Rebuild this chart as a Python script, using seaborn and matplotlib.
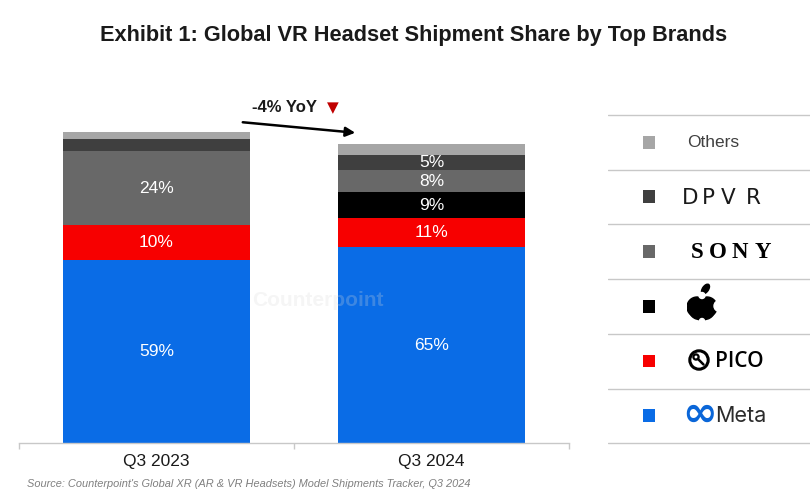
import numpy as np
import pandas as pd
import seaborn as sns
import matplotlib.pyplot as plt
from matplotlib.patches import Circle, Ellipse

quarters = ["Q3 2023", "Q3 2024"]
brands = ["Meta", "PICO", "Apple", "Sony", "DPVR", "Others"]

# segment heights (Q3 2023 total = 100, Q3 2024 is -4% YoY)
meta = [58.8, 63.0]
pico = [11.3, 9.3]
apple = [0.0, 8.4]
sony = [23.8, 7.1]
dpvr = [3.9, 4.8]
others = [2.3, 3.5]

# shares printed inside the bars
meta_lbl = ["59%", "65%"]
pico_lbl = ["10%", "11%"]
apple_lbl = ["", "9%"]
sony_lbl = ["24%", "8%"]
dpvr_lbl = ["", "5%"]
others_lbl = ["", ""]

colors = ["#0a6ce6", "#f70000", "#000000", "#686868", "#3f3f3f", "#a6a6a6"]

title = "Exhibit 1: Global VR Headset Shipment Share by Top Brands"
yoy = "-4% YoY"
source = "Source: Counterpoint's Global XR (AR & VR Headsets) Model Shipments Tracker, Q3 2024"

W, H = 811, 500


def fpx(x, y):
    # figure fraction from pixel position measured top-left
    return x / W, 1 - y / H


def px_axes(fig, x0, y0, w, h):
    return fig.add_axes([x0 / W, 1 - (y0 + h) / H, w / W, h / H])


df = pd.DataFrame({
    "quarter": quarters * len(brands),
    "brand": np.repeat(brands, len(quarters)),
    "value": meta + pico + apple + sony + dpvr + others,
    "label": meta_lbl + pico_lbl + apple_lbl + sony_lbl + dpvr_lbl + others_lbl,
})
df["top"] = df.groupby("quarter")["value"].cumsum()
df["mid"] = df["top"] - df["value"] / 2

sns.set_theme(style="white")
plt.rcParams["font.family"] = ["Liberation Sans", "DejaVu Sans"]

fig = plt.figure(figsize=(W / 100, H / 100), dpi=100)
ax = px_axes(fig, 19, 100, 550, 343)

# stacked bars: draw cumulative totals from the top segment down
for brand, color in reversed(list(zip(brands, colors))):
    sub = df[(df["brand"] == brand) & (df["value"] > 0)]
    sns.barplot(data=sub, x="quarter", y="top", order=quarters, color=color,
                width=0.68, saturation=1, linewidth=0, errorbar=None, ax=ax)

for row in df.itertuples():
    if row.label:
        ax.text(quarters.index(row.quarter), row.mid, row.label, ha="center",
                va="center", color="white", fontsize=12.5)

ax.set_xlim(-0.5, 1.5)
ax.set_ylim(0, 110.3)
ax.set_xlabel("")
ax.set_ylabel("")
ax.set_yticks([])
for s in ["left", "top", "right"]:
    ax.spines[s].set_visible(False)
ax.spines["bottom"].set_color("#c8c8c8")
ax.spines["bottom"].set_linewidth(1)
ax.set_xticks([-0.5, 0.5, 1.5], minor=True)
ax.tick_params(axis="x", which="minor", bottom=True, length=4, color="#c8c8c8")
ax.tick_params(axis="x", which="major", bottom=False, labelsize=12.5,
               labelcolor="#1a1a1a", pad=2)

# title, source, watermark
fig.text(*fpx(414, 35), title, ha="center", va="center", fontsize=15.7,
         fontweight="bold", color="#1a1a1a")
fig.text(*fpx(27, 484), source, ha="left", va="center", fontsize=7.9,
         style="italic", color="#808080")
fig.text(*fpx(318, 300), "Counterpoint", ha="center", va="center", fontsize=15,
         fontweight="bold", color="#d8d8d8", alpha=0.25, zorder=10)

# YoY note and arrow
fig.text(*fpx(284, 107), yoy, ha="center", va="center", fontsize=12,
         fontweight="bold", color="#1a1a1a")
fig.text(*fpx(333, 108), "\u25bc", ha="center", va="center", fontsize=11,
         color="#c00000", family="DejaVu Sans")
ax.annotate("", xy=(358, H - 133), xytext=(240, H - 122), xycoords="figure pixels",
            textcoords="figure pixels",
            arrowprops=dict(arrowstyle="-|>", color="black", lw=1.8,
                            mutation_scale=14))

# legend panel
lax = px_axes(fig, 608, 110, 202, 338)
lax.set_xlim(608, 810)
lax.set_ylim(448, 110)
lax.axis("off")
for k in range(len(brands) + 1):
    lax.axhline(115 + k * 54.7, color="#c8c8c8", lw=1)
row_y = [443 - 27.3 - i * 54.7 for i in range(len(brands))]
lax.scatter([649] * len(brands), row_y, marker="s", s=85, c=colors, linewidths=0)

# Others
lax.text(687, row_y[5], "Others", va="center", fontsize=12.5, color="#404040")
# DPVR
for ch, cx in zip("DPVR", [690, 708, 728, 753]):
    lax.text(cx, row_y[4] + 1, ch, ha="center", va="center", fontsize=15.5,
             family="DejaVu Sans", color="#1a1a1a")
# SONY
for ch, cx in zip("SONY", [697, 718, 740, 763]):
    lax.text(cx, row_y[3] + 1, ch, ha="center", va="center", fontsize=16.5,
             fontweight="bold", family="Liberation Serif", color="black")
# Apple logo
aax = px_axes(fig, 687, 283, 31, 38)
aax.set_xlim(0, 31)
aax.set_ylim(0, 38)
aax.axis("off")
for p in [Circle((10, 14), 10), Circle((20, 14), 10), Ellipse((15, 9), 24, 16),
          Ellipse((18.5, 32), 6, 11, angle=-35)]:
    p.set_color("black")
    aax.add_patch(p)
for p in [Circle((15, 25.5), 3), Circle((32.5, 15), 5.5), Circle((15, 0), 2.5)]:
    p.set_color("white")
    aax.add_patch(p)
# PICO logo
pax = px_axes(fig, 688, 349, 22, 22)
pax.set_xlim(0, 22)
pax.set_ylim(0, 22)
pax.axis("off")
pax.add_patch(Circle((11, 11), 9.2, fill=False, lw=2.2, color="black"))
pax.add_patch(Circle((8, 14), 2.6, fill=False, lw=1.6, color="black"))
pax.plot([9.8, 15.5], [12.2, 6.5], color="black", lw=1.8, solid_capstyle="round")
lax.text(715, row_y[1] + 0.5, "PICO", va="center", fontsize=15, fontweight="semibold",
         family="Open Sans", color="black")
# Meta logo
lax.text(682, row_y[0] - 2, "\u221e", va="center", fontsize=30, fontweight="bold",
         family="DejaVu Sans", color="#0a66d8")
lax.text(715, row_y[0], "Meta", va="center", fontsize=15.5, family="Inter",
         color="#2b2b2b")

fig.savefig("out.png", dpi=100)
